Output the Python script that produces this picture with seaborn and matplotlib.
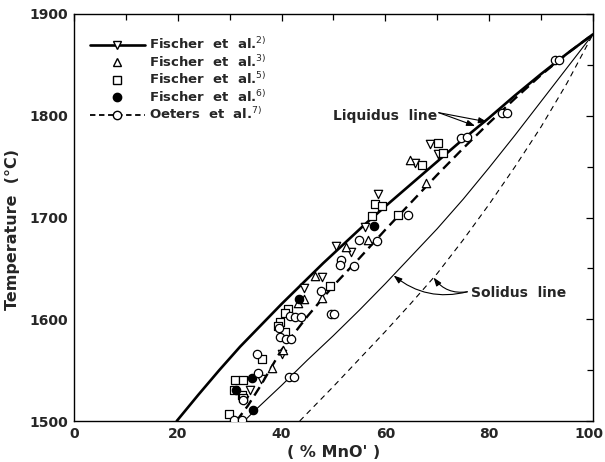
import matplotlib
matplotlib.use("Agg")
import matplotlib.pyplot as plt
import matplotlib.transforms as mtransforms
from matplotlib.lines import Line2D
import numpy as np
import pandas as pd
import seaborn as sns

# Liquidus / solidus curves (% MnO', temperature in deg C)
liq_fischer_x = [19.8, 24, 28, 32, 36, 40, 44, 48, 52, 56, 60, 65, 70, 75, 80, 85, 90, 95, 100]
liq_fischer_t = [1500, 1526, 1550, 1573, 1594, 1615, 1635, 1655, 1674, 1693, 1711, 1733, 1755,
                 1777, 1798, 1820, 1841, 1861, 1880]

liq_oeters_x = [31.3, 33.5, 36, 40, 45, 50, 55, 60, 65, 70, 75, 80, 85, 90, 95, 100]
liq_oeters_t = [1500, 1515, 1535, 1570, 1603, 1633, 1660, 1688, 1715, 1742, 1768, 1793, 1817,
                1840, 1861, 1880]

sol_fischer_x = [32.8, 35, 40, 45, 50, 55, 60, 65, 70, 75, 80, 85, 90, 95, 100]
sol_fischer_t = [1500, 1511, 1535, 1560, 1584, 1609, 1635, 1662, 1689, 1718, 1749, 1781, 1814,
                 1847, 1880]

sol_oeters_x = [43.5, 50, 55, 60, 65, 70, 75, 80, 85, 90, 95, 100]
sol_oeters_t = [1500, 1534, 1561, 1588, 1616, 1645, 1678, 1713, 1750, 1789, 1832, 1880]

# Measured points
f2_x = [68.7, 70.2, 65.8, 58.6, 56.1, 50.5, 53.3, 47.7, 44.3, 40.0, 36.0, 34.0, 32.8]
f2_t = [1772, 1762, 1754, 1723, 1691, 1672, 1666, 1642, 1631, 1566, 1541, 1530, 1521]

f3_x = [64.7, 67.9, 56.7, 52.4, 46.4, 47.7, 43.2, 44.3, 40.3, 38.1]
f3_t = [1757, 1734, 1678, 1671, 1643, 1621, 1616, 1620, 1570, 1552]

f5_x = [70.2, 71.2, 67.1, 58.0, 59.3, 57.5, 62.5, 49.3, 41.3, 40.7, 39.7, 39.4, 40.7, 36.2,
        31.0, 32.5, 30.8, 32.3, 32.6, 29.9]
f5_t = [1773, 1763, 1752, 1713, 1711, 1701, 1702, 1633, 1610, 1606, 1597, 1593, 1587, 1561,
        1540, 1540, 1530, 1526, 1523, 1507]

f6_x = [57.8, 43.4, 34.4, 31.2, 34.5]
f6_t = [1692, 1620, 1542, 1530, 1511]

oe_x = [92.7, 93.4, 82.4, 83.5, 74.5, 75.7, 64.4, 55.0, 58.3, 51.5, 51.2, 53.9, 47.6, 49.6,
        50.2, 41.6, 42.6, 43.7, 39.6, 39.7, 40.8, 41.8, 35.3, 35.5, 41.5, 42.4, 32.5, 30.8, 32.3]
oe_t = [1855, 1855, 1803, 1803, 1778, 1779, 1702, 1678, 1677, 1658, 1653, 1652, 1628, 1605,
        1605, 1603, 1602, 1602, 1591, 1583, 1581, 1581, 1566, 1547, 1543, 1543, 1521, 1501, 1501]

legend_labels = ["Fischer  et  al.$^{2)}$", "Fischer  et  al.$^{3)}$",
                 "Fischer  et  al.$^{5)}$", "Fischer  et  al.$^{6)}$",
                 "Oeters  et  al.$^{7)}$"]

sns.set_style("white")
plt.rcParams["font.family"] = ["DejaVu Sans"]
plt.rcParams["mathtext.fontset"] = "dejavusans"

fig = plt.figure(figsize=(6.05, 4.62), dpi=100)
ax = fig.add_axes([0.1223, 0.0887, 0.8577, 0.881])

ink = "black"
curves = [
    (liq_fischer_x, liq_fischer_t, dict(lw=1.9, ls="-")),
    (liq_oeters_x, liq_oeters_t, dict(lw=1.7, ls=(0, (4.2, 2.4)))),
    (sol_fischer_x, sol_fischer_t, dict(lw=0.8, ls="-")),
    (sol_oeters_x, sol_oeters_t, dict(lw=0.8, ls=(0, (5, 4)))),
]
for cx, ct, style in curves:
    sns.lineplot(x=cx, y=ct, ax=ax, color=ink, sort=False, estimator=None, **style)

ms = 36
pts = [
    (f2_x, f2_t, "v", "white"),
    (f3_x, f3_t, "^", "white"),
    (f5_x, f5_t, "s", "white"),
    (f6_x, f6_t, "o", ink),
    (oe_x, oe_t, "o", "white"),
]
for px, pt, mk, fc in pts:
    sns.scatterplot(x=px, y=pt, ax=ax, marker=mk, s=ms, facecolor=fc,
                    edgecolor=ink, linewidth=0.9, zorder=5)

ax.set_xlim(0, 100)
ax.set_ylim(1500, 1900)
ax.set_xticks(np.arange(0, 101, 20))
ax.set_xticks(np.arange(0, 101, 10), minor=True)
ax.set_yticks(np.arange(1500, 1901, 100))
ax.set_yticks(np.arange(1500, 1901, 50), minor=True)
ax.set_yticklabels(["1500", "1600", "1700", "1800", "1900"])
ax.tick_params(axis="both", which="both", direction="in", top=True, right=True,
               color=ink, width=0.9)
ax.tick_params(axis="both", which="major", length=5, labelsize=10, pad=4)
ax.tick_params(axis="both", which="minor", length=4)
ax.tick_params(axis="y", which="both", left=False)
for lab in ax.get_xticklabels() + ax.get_yticklabels():
    lab.set_fontweight("bold")
# keep the last x label inside the figure edge
last = ax.get_xticklabels()[-1]
last.set_transform(last.get_transform() +
                   mtransforms.ScaledTranslation(-4 / 100, 0, fig.dpi_scale_trans))
for sp in ax.spines.values():
    sp.set_color(ink)
    sp.set_linewidth(1.0)

ax.set_xlabel("( % MnO' )", fontsize=11.5, fontweight="bold", labelpad=3)
ax.set_ylabel("Temperature  (°C)", fontsize=11.5, fontweight="bold")
ax.yaxis.set_label_coords(-0.104, 0.47)

handles = [
    Line2D([], [], color=ink, lw=1.9, marker="v", ms=6, mfc="white", mec=ink),
    Line2D([], [], ls="none", marker="^", ms=6, mfc="white", mec=ink),
    Line2D([], [], ls="none", marker="s", ms=6, mfc="white", mec=ink),
    Line2D([], [], ls="none", marker="o", ms=6, mfc=ink, mec=ink),
    Line2D([], [], color=ink, lw=1.3, ls=(0, (3, 2)), marker="o", ms=6, mfc="white", mec=ink),
]
leg = ax.legend(handles, legend_labels, loc="upper left", bbox_to_anchor=(0.02, 0.958),
                frameon=False, handlelength=4.2, handletextpad=0.3, labelspacing=0.12,
                borderaxespad=0, prop={"size": 9.5, "weight": "bold"})

ax.text(50.0, 1800, "Liquidus  line", fontsize=10, fontweight="bold", va="center", ha="left")
for tx, ty in [(77.3, 1790), (79.6, 1794)]:
    ax.annotate("", xy=(tx, ty), xytext=(70.3, 1803),
                arrowprops=dict(arrowstyle="-|>,head_length=0.5,head_width=0.18",
                                color=ink, lw=0.8, shrinkA=0, shrinkB=0))

ax.text(76.5, 1626, "Solidus  line", fontsize=10, fontweight="bold", va="center", ha="left")
for tx, ty, rad in [(61.6, 1643, -0.25), (69.3, 1641, -0.3)]:
    ax.annotate("", xy=(tx, ty), xytext=(75.8, 1627),
                arrowprops=dict(arrowstyle="-|>,head_length=0.5,head_width=0.18",
                                color=ink, lw=0.8, shrinkA=0, shrinkB=0,
                                connectionstyle=f"arc3,rad={rad}"))

fig.savefig("out.png", dpi=100)
